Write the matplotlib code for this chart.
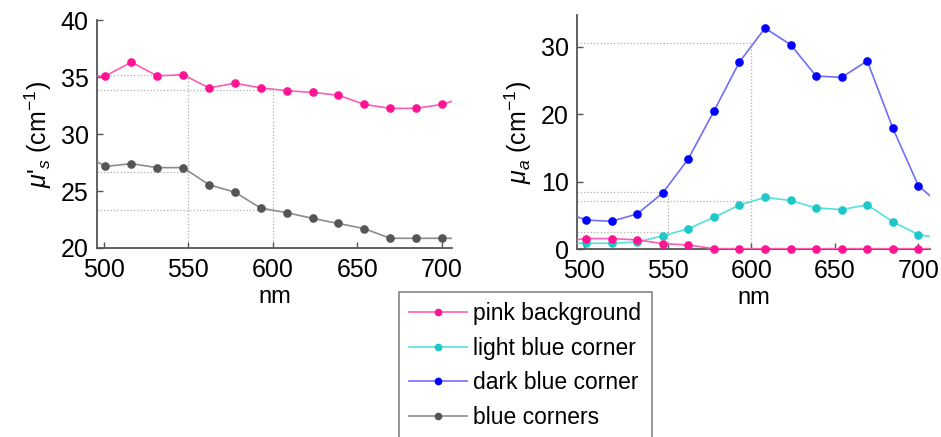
import matplotlib
matplotlib.use("Agg")
import matplotlib.pyplot as plt
from matplotlib.lines import Line2D

plt.rcParams['font.family'] = ['Liberation Sans', 'DejaVu Sans']
plt.rcParams['mathtext.fontset'] = 'custom'
plt.rcParams['mathtext.rm'] = 'Liberation Sans'
plt.rcParams['mathtext.it'] = 'Liberation Sans:italic'

# wavelengths (nm) with measured points
nm = [501, 516.3, 531.6, 546.9, 562.2, 577.5, 592.8, 608.2, 623.5, 638.8, 654.1, 669.4, 684.7, 700]
# one point beyond each axis edge so the line runs to the frame
nm_left = 485.4
nm_right = 715.3

# reduced scattering mu's (cm^-1)
mus_pink = [35.1, 36.3, 35.1, 35.2, 34.05, 34.45, 34.05, 33.8, 33.65, 33.4, 32.6, 32.25, 32.25, 32.6]
mus_pink_edge = [35.0, 33.3]
mus_blue = [27.15, 27.4, 27.05, 27.05, 25.55, 24.9, 23.5, 23.1, 22.6, 22.15, 21.7, 20.85, 20.85, 20.85]
mus_blue_edge = [28.5, 20.85]

# absorption mu_a (cm^-1)
mua_pink = [1.55, 1.55, 1.35, 0.8, 0.6, 0.05, 0.05, 0.05, 0.05, 0.05, 0.05, 0.05, 0.05, 0.05]
mua_pink_edge = [1.1, 0.05]
mua_light = [0.85, 0.85, 1.05, 1.95, 3.0, 4.7, 6.5, 7.65, 7.2, 6.1, 5.85, 6.55, 4.05, 2.15]
mua_light_edge = [0.9, 1.5]
mua_dark = [4.3, 4.1, 5.2, 8.3, 13.35, 20.4, 27.7, 32.75, 30.3, 25.65, 25.45, 27.9, 17.95, 9.4]
mua_dark_edge = [5.7, 6.1]

# dotted read-off lines: (wavelength, value)
left_refs = [(550, 35.15), (600, 33.9), (550, 26.7), (600, 23.3)]
right_refs = [(600, 30.6), (550, 8.4), (600, 7.15), (550, 2.45)]

styles = {
    'pink background': ('#ff5cb4', '#ff1493'),
    'light blue corner': ('#55e0dc', '#1ec8c8'),
    'dark blue corner': ('#6f6ff5', '#0000ff'),
    'blue corners': ('#8c8c8c', '#555555'),
}


def draw(ax, values, edge, name):
    lc, mc = styles[name]
    ax.plot([nm_left] + nm + [nm_right], [edge[0]] + values + [edge[1]],
            color=lc, lw=1.2, zorder=3)
    ax.plot(nm, values, 'o', color=mc, ms=5.2, zorder=4, clip_on=False)


def refs(ax, pairs, xmin, ymin, vert):
    for x, y in pairs:
        ax.plot([xmin, x], [y, y], ':', color='#b0b0b0', lw=0.9, zorder=1)
    for x, y in vert:
        ax.plot([x, x], [ymin, y], ':', color='#b0b0b0', lw=0.9, zorder=1)


def style(ax):
    for s in ['top', 'right']:
        ax.spines[s].set_visible(False)
    for s in ['left', 'bottom']:
        ax.spines[s].set_color('#555555')
        ax.spines[s].set_linewidth(1.3)
    ax.tick_params(direction='in', length=4, width=1, color='#555555',
                   labelsize=18)
    ax.tick_params(axis='x', pad=7)
    ax.tick_params(axis='y', pad=6)
    ax.set_xticks([500, 550, 600, 650, 700])
    ax.set_xlabel('nm', fontsize=17, labelpad=3)


fig = plt.figure(figsize=(9.41, 4.37), dpi=100)
ax1 = fig.add_axes([0.1031, 0.4325, 0.3773, 0.5217])
ax2 = fig.add_axes([0.6132, 0.4302, 0.3751, 0.5355])

# left panel
refs(ax1, left_refs, 496, 20, [(550, 35.15), (600, 33.9)])
draw(ax1, mus_pink, mus_pink_edge, 'pink background')
draw(ax1, mus_blue, mus_blue_edge, 'blue corners')
ax1.set_xlim(496, 706)
ax1.set_ylim(20, 40)
ax1.set_yticks([20, 25, 30, 35, 40])
style(ax1)
ax1.set_ylabel(r"$\mu$'$_s$ (cm$^{-1}$)", fontsize=18, labelpad=5)

# right panel
refs(ax2, right_refs, 495.6, 0, [(550, 8.4), (600, 30.6)])
draw(ax2, mua_light, mua_light_edge, 'light blue corner')
draw(ax2, mua_dark, mua_dark_edge, 'dark blue corner')
draw(ax2, mua_pink, mua_pink_edge, 'pink background')
ax2.set_xlim(495.6, 707)
ax2.set_ylim(0, 34.7)
ax2.set_yticks([0, 10, 20, 30])
style(ax2)
ax2.set_ylabel(r"$\mu_a$ (cm$^{-1}$)", fontsize=18, labelpad=5)

handles = [Line2D([], [], color=styles[n][0], lw=1.2, marker='o',
                  markerfacecolor=styles[n][1], markeredgecolor=styles[n][1],
                  ms=4.5) for n in styles]
leg = fig.legend(handles, list(styles), loc='upper left',
                 bbox_to_anchor=(399 / 941, 1 - 292 / 437),
                 bbox_transform=fig.transFigure, fontsize=16.5, numpoints=1,
                 fancybox=False, handlelength=2.5, handletextpad=0.3,
                 borderaxespad=0, borderpad=0.45, labelspacing=0.5)
leg.get_frame().set_edgecolor('#666666')
leg.get_frame().set_linewidth(1.2)

fig.savefig('out.png', dpi=100)
